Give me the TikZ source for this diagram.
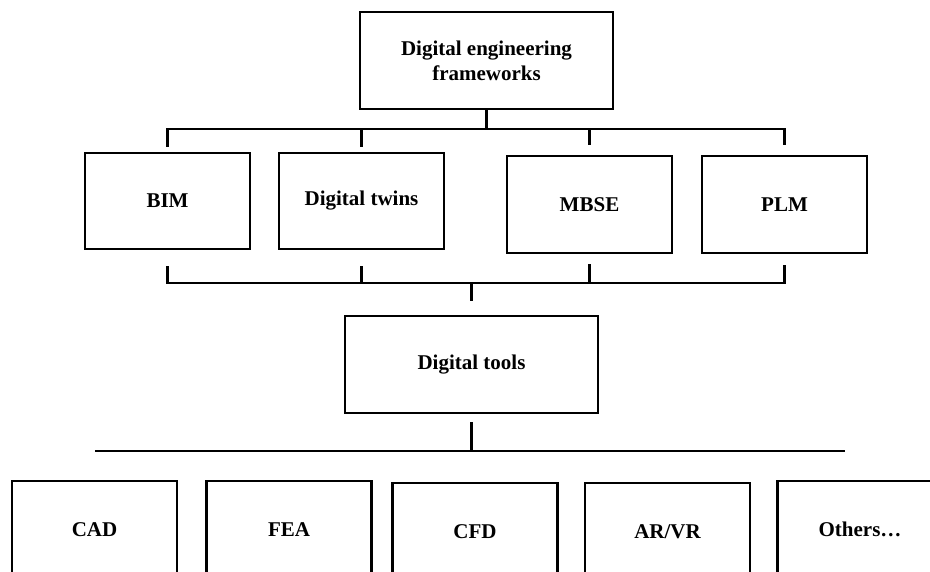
\documentclass[tikz,border=0pt]{standalone}
\usepackage{fontspec}
\setmainfont{Liberation Serif}
\usetikzlibrary{calc}
\begin{document}
\begin{tikzpicture}[x=1pt,y=-1pt,
  box/.style={draw=black, line width=2.5pt, fill=white, minimum width=165pt, minimum height=96pt,
    inner sep=0pt, align=center, font=\fontsize{21}{25}\selectfont\bfseries},
  widebox/.style={box, minimum width=253pt, minimum height=97pt},
  conn/.style={draw=black, line width=2.5pt}]
\clip (0,0) rectangle (930,572);
\fill[white] (0,0) rectangle (930,572);
% nodes
\node[widebox] (top) at (486.5,60.5) {Digital engineering\\frameworks};
\node[box] (bim) at (167.5,201) {BIM};
\node[box] (twins) at (361.5,201) {Digital twins};
\node[box, minimum height=97pt] (mbse) at (589.5,204.5) {MBSE};
\node[box, minimum height=97pt] (plm) at (784.5,204.5) {PLM};
\node[widebox] (tools) at (471.5,364.5) {Digital tools};
\node[box, minimum height=97pt] (cad) at (94.5,529.5) {CAD};
\node[box, minimum height=97pt] (fea) at (289,529.5) {FEA};
\node[box, minimum height=97pt] (cfd) at (475,531.5) {CFD};
\node[box, minimum height=97pt] (arvr) at (667.5,531.5) {AR/VR};
\node[box, minimum height=97pt] (others) at (860,529.5) {Others\dots};
% bus coordinates
\coordinate (busA) at (0,129);
\coordinate (busB) at (0,283);
\coordinate (busC) at (0,451);
\coordinate (busCw) at (95,451);
\coordinate (busCe) at (845,451);
% upper bus
\draw[conn] (top.south) -- (top.south |- busA);
\draw[conn] ([yshift=5pt]bim.north) -- (bim.north |- busA) -- (plm.north |- busA) -- ([yshift=10pt]plm.north);
\draw[conn] ([yshift=5pt]twins.north) -- (twins.north |- busA);
\draw[conn] ([yshift=10pt]mbse.north) -- (mbse.north |- busA);
% lower bus
\draw[conn] ([yshift=-16pt]bim.south) -- (bim.south |- busB) -- (plm.south |- busB) -- ([yshift=-11pt]plm.south);
\draw[conn] ([yshift=-16pt]twins.south) -- (twins.south |- busB);
\draw[conn] ([yshift=-10pt]mbse.south) -- (mbse.south |- busB);
\draw[conn] (tools.north |- busB) -- ([yshift=14pt]tools.north);
% bottom bus
\draw[conn] ([yshift=-8pt]tools.south) -- (tools.south |- busC);
\draw[conn] (busCw) -- (busCe);
\end{tikzpicture}
\end{document}
